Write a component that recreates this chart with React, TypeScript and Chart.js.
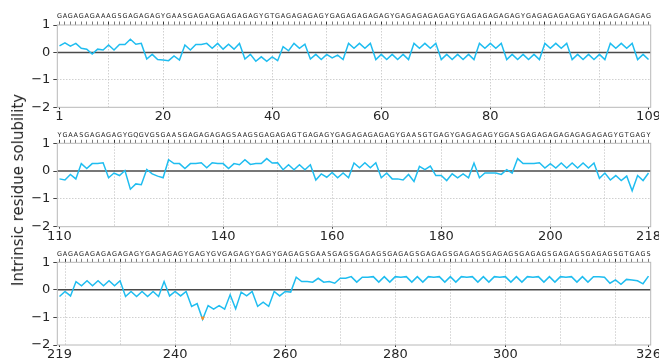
import React, { useEffect, useRef } from "react";
import { Chart, registerables } from "chart.js";

Chart.register(...registerables);

// ---------- data ----------
const sequence1 = [
  "GAGAGAGAAAGSGAGAGAGY", "GAAS", "GAGAGAGAGAGAGY", "GTGAGAGAGAGY",
  "GAGAGAGAGAGY", "GAGAGAGAGAGY", "GAGAGAGAGAGY", "GAGAGAGAGAGY", "GAGAGAGAGAG",
].join("");
const sequence2 = [
  "YGAAS", "GAGAGAGY", "GQGVGS", "GAAS", "GAGAGAGAGS", "AAGS", "GAGAGAGT", "GAGAGY",
  "GAGAGAGAGAGY", "GAASGTGAGY", "GAGAGAGY", "GGAS", "GAGAGAGAGAGAGAGAGY", "GTGAGY",
].join("");
const sequence3 = [
  "GAGAGAGAGAGAGAGY", "GAGAGAGY", "GAGY", "GVGAGAGY", "GAGY", "GAGAGS", "GAAS", "GAGS",
  "GAGAGS", "GAGAGS", "GAGAGS", "GAGAGS", "GAGAGS", "GAGAGS", "GAGAGS", "GAGAGS", "GTGAGS",
].join("");

const start1 = 1;
const start2 = 110;
const start3 = 219;

const values1 = [
  0.24, 0.35, 0.23, 0.33, 0.15, 0.12, -0.06, 0.12, 0.09, 0.27,
  0.09, 0.29, 0.29, 0.48, 0.30, 0.33, -0.24, -0.07, -0.26, -0.28,
  -0.30, -0.13, -0.28, 0.27, 0.09, 0.29, 0.29, 0.33, 0.15, 0.33,
  0.12, 0.30, 0.12, 0.33, -0.24, -0.07, -0.32, -0.16, -0.32, -0.16,
  -0.30, 0.21, 0.06, 0.33, 0.15, 0.30, -0.24, -0.07, -0.26, -0.07,
  -0.20, -0.10, -0.26, 0.33, 0.15, 0.33, 0.15, 0.33, -0.26, -0.07,
  -0.26, -0.07, -0.26, -0.07, -0.26, 0.33, 0.15, 0.33, 0.15, 0.33,
  -0.26, -0.07, -0.26, -0.07, -0.26, -0.07, -0.26, 0.33, 0.15, 0.33,
  0.15, 0.33, -0.26, -0.07, -0.26, -0.07, -0.26, -0.07, -0.26, 0.33,
  0.15, 0.33, 0.15, 0.33, -0.26, -0.07, -0.26, -0.07, -0.26, -0.07,
  -0.26, 0.33, 0.15, 0.33, 0.15, 0.33, -0.26, -0.07, -0.26,
];

const values2 = [
  -0.28, -0.32, -0.12, -0.28, 0.27, 0.09, 0.27, 0.27, 0.30, -0.24,
  -0.07, -0.16, 0.02, -0.65, -0.46, -0.49, 0.06, -0.10, -0.18, -0.24,
  0.41, 0.27, 0.27, 0.09, 0.27, 0.27, 0.30, 0.12, 0.30, 0.27,
  0.27, 0.09, 0.27, 0.23, 0.41, 0.24, 0.27, 0.27, 0.45, 0.29,
  0.30, 0.05, 0.23, 0.05, 0.23, 0.05, 0.23, -0.32, -0.10, -0.22,
  -0.05, -0.24, -0.07, -0.24, 0.29, 0.12, 0.30, 0.12, 0.30, -0.24,
  -0.07, -0.28, -0.28, -0.32, -0.12, -0.37, 0.17, 0.05, 0.18, -0.16,
  -0.16, -0.34, -0.10, -0.24, -0.10, -0.24, 0.29, -0.24, -0.07, -0.07,
  -0.07, -0.12, 0.05, -0.07, 0.45, 0.27, 0.27, 0.27, 0.30, 0.11,
  0.27, 0.11, 0.29, 0.11, 0.29, 0.11, 0.29, 0.11, 0.29, -0.26,
  -0.07, -0.32, -0.16, -0.34, -0.18, -0.71, -0.16, -0.34, -0.07,
];

const values3 = [
  -0.24, -0.06, -0.22, 0.30, 0.15, 0.33, 0.15, 0.33, 0.15, 0.33,
  0.15, 0.33, -0.24, -0.06, -0.24, -0.06, -0.24, -0.06, -0.24, 0.30,
  -0.22, -0.06, -0.22, -0.06, -0.60, -0.50, -1.07, -0.57, -0.70, -0.57,
  -0.70, -0.18, -0.69, -0.08, -0.22, -0.06, -0.60, -0.45, -0.60, -0.06,
  -0.22, -0.06, -0.08, 0.46, 0.30, 0.30, 0.28, 0.42, 0.28, 0.30,
  0.24, 0.42, 0.42, 0.48, 0.28, 0.46, 0.46, 0.48, 0.28, 0.48,
  0.28, 0.48, 0.46, 0.48, 0.28, 0.48, 0.28, 0.48, 0.46, 0.48,
  0.28, 0.48, 0.28, 0.48, 0.46, 0.48, 0.28, 0.48, 0.28, 0.48,
  0.46, 0.48, 0.28, 0.48, 0.28, 0.48, 0.46, 0.48, 0.28, 0.48,
  0.28, 0.48, 0.46, 0.48, 0.28, 0.48, 0.28, 0.48, 0.48, 0.46,
  0.24, 0.36, 0.20, 0.38, 0.36, 0.33, 0.22, 0.50,
];

const xLabels1 = [1, 20, 40, 60, 80, 109];
const xGrid1 = [10, 20, 30, 40, 50, 60, 70, 80, 90, 100];
const xLabels2 = [110, 140, 160, 180, 200, 218];
const xGrid2 = [120, 130, 140, 150, 160, 170, 180, 190, 200, 210];
const xLabels3 = [219, 240, 260, 280, 300, 326];
const xGrid3 = [220, 230, 240, 250, 260, 270, 280, 290, 300, 310, 320];
const yTicks = [-2, -1, 0, 1];
const lowThreshold = -0.97;

const yTitle = "Intrinsic residue solubility";

// ---------- style ----------
const BLUE = "#1fbdf0";
const ORANGE = "#ff8c1a";
const FONT = "DejaVu Sans";
const W = 659;
const H = 360;
const TOP_H = 25;
const BOT_H = 15;
const LEFT_W = 57.3;
const RIGHT_PAD = 8.3;

const panels = [
  { start: start1, seq: sequence1, values: values1, labels: xLabels1, grid: xGrid1, top: 25, bottom: 107.3 },
  { start: start2, seq: sequence2, values: values2, labels: xLabels2, grid: xGrid2, top: 143.3, bottom: 226.7 },
  { start: start3, seq: sequence3, values: values3, labels: xLabels3, grid: xGrid3, top: 262.3, bottom: 345 },
];

const decoPlugin = {
  id: "panelDeco",
  beforeDatasetsDraw(chart: any) {
    const { ctx, chartArea: a, scales } = chart;
    const y0 = scales.y.getPixelForValue(0);
    ctx.save();
    ctx.strokeStyle = "#4a4a4a";
    ctx.lineWidth = 1.5;
    ctx.beginPath();
    ctx.moveTo(a.left, y0);
    ctx.lineTo(a.right, y0);
    ctx.stroke();
    ctx.restore();
  },
  afterDatasetsDraw(chart: any) {
    const { ctx, chartArea: a, scales } = chart;
    // recolour the part of the line that lies below the threshold
    const meta = chart.getDatasetMeta(0);
    const yp = scales.y.getPixelForValue(lowThreshold);
    if (meta && meta.data && meta.data.length) {
      ctx.save();
      ctx.beginPath();
      ctx.rect(a.left, yp, a.right - a.left, a.bottom - yp);
      ctx.clip();
      ctx.strokeStyle = ORANGE;
      ctx.lineWidth = 1.5;
      ctx.lineJoin = "round";
      ctx.beginPath();
      meta.data.forEach((pt: any, i: number) => {
        if (i === 0) ctx.moveTo(pt.x, pt.y);
        else ctx.lineTo(pt.x, pt.y);
      });
      ctx.stroke();
      ctx.restore();
    }
    ctx.save();
    ctx.strokeStyle = "#b8b8b8";
    ctx.lineWidth = 1;
    ctx.strokeRect(a.left, a.top, a.right - a.left, a.bottom - a.top);
    ctx.restore();
  },
};

function makeConfig(p: any): any {
  const { start, seq, values, labels, grid, top, bottom } = p;
  const end = start + values.length - 1;
  const min = start - 0.4;
  const max = end + 0.4;
  const points = values.map((v: number, i: number) => ({ x: start + i, y: v }));
  const residues = values.map((_: number, i: number) => start + i);
  const bottomTicks = Array.from(new Set([...labels, ...grid])).sort((a: any, b: any) => a - b);

  return {
    type: "line",
    data: {
      datasets: [
        {
          data: points,
          borderColor: BLUE,
          borderWidth: 1.5,
          pointRadius: 0,
          tension: 0,
          fill: false,
          xAxisID: "x",
          yAxisID: "y",
        },
      ],
    },
    options: {
      responsive: false,
      animation: false,
      events: [],
      layout: {
        padding: { left: 0, right: RIGHT_PAD, top: top - TOP_H, bottom: H - bottom - BOT_H },
      },
      plugins: { legend: { display: false }, tooltip: { enabled: false } },
      scales: {
        x: {
          type: "linear",
          position: "bottom",
          min,
          max,
          afterBuildTicks: (s: any) => {
            s.ticks = bottomTicks.map((v: any) => ({ value: v }));
          },
          afterFit: (s: any) => {
            s.height = BOT_H;
            s.paddingLeft = 0;
            s.paddingRight = 0;
          },
          ticks: {
            autoSkip: false,
            maxRotation: 0,
            minRotation: 0,
            padding: 0,
            color: "#262626",
            font: { family: FONT, size: 13 },
            callback: (v: any) => (labels.includes(v) ? String(v) : ""),
          },
          grid: {
            drawOnChartArea: true,
            color: (c: any) => (c.tick && grid.includes(c.tick.value) ? "#c4c4c4" : "rgba(0,0,0,0)"),
            lineWidth: 0.8,
            drawTicks: true,
            tickLength: 2,
            tickWidth: 1,
            tickColor: (c: any) => (c.tick && labels.includes(c.tick.value) ? "#333" : "rgba(0,0,0,0)"),
          },
          border: { display: false, dash: [1.5, 1.5] },
        },
        x2: {
          type: "linear",
          position: "top",
          min,
          max,
          afterBuildTicks: (s: any) => {
            s.ticks = residues.map((v: number) => ({ value: v }));
          },
          afterFit: (s: any) => {
            s.height = TOP_H;
            s.paddingLeft = 0;
            s.paddingRight = 0;
          },
          ticks: {
            autoSkip: false,
            maxRotation: 0,
            minRotation: 0,
            padding: 1,
            color: "#222",
            font: { family: FONT, size: 6.5 },
            callback: (v: any) => seq.charAt(v - start),
          },
          grid: {
            drawOnChartArea: false,
            drawTicks: true,
            tickLength: 3.5,
            tickWidth: 0.8,
            tickColor: (c: any) => (c.tick && c.tick.value % 10 === 0 ? "#000" : "#555"),
          },
          border: { display: false },
        },
        y: {
          type: "linear",
          min: -2,
          max: 1,
          afterBuildTicks: (s: any) => {
            s.ticks = yTicks.map((v) => ({ value: v }));
          },
          afterFit: (s: any) => {
            s.width = LEFT_W;
            s.paddingTop = 0;
            s.paddingBottom = 0;
          },
          ticks: {
            padding: 3,
            color: "#262626",
            font: { family: FONT, size: 13 },
            callback: (v: any) => String(v).replace("-", "\u2212"),
          },
          grid: {
            color: (c: any) => (c.tick && c.tick.value === -1 ? "#c4c4c4" : "rgba(0,0,0,0)"),
            lineWidth: 0.8,
            drawTicks: true,
            tickLength: 4,
            tickWidth: 1,
            tickColor: "#444",
          },
          border: { display: false, dash: [1.5, 1.5] },
        },
      },
    },
    plugins: [decoPlugin],
  };
}

function Panel({ p }: { p: any }) {
  const ref = useRef<HTMLCanvasElement | null>(null);
  useEffect(() => {
    if (!ref.current) return;
    const chart = new Chart(ref.current, makeConfig(p));
    return () => chart.destroy();
  }, [p]);
  return (
    <canvas
      ref={ref}
      width={W}
      height={H}
      style={{ position: "absolute", left: 0, top: 0, width: W, height: H, display: "block" }}
    />
  );
}

export default function App() {
  return (
    <div
      style={{
        position: "fixed",
        left: 0,
        top: 0,
        width: W,
        height: H,
        background: "#fff",
        overflow: "hidden",
      }}
    >
      {panels.map((p, i) => (
        <Panel key={i} p={p} />
      ))}
      <div
        style={{
          position: "absolute",
          left: 18,
          top: 190,
          transform: "translate(-50%, -50%) rotate(-90deg)",
          whiteSpace: "nowrap",
          fontFamily: FONT,
          fontSize: 15,
          color: "#262626",
        }}
      >
        {yTitle}
      </div>
    </div>
  );
}
